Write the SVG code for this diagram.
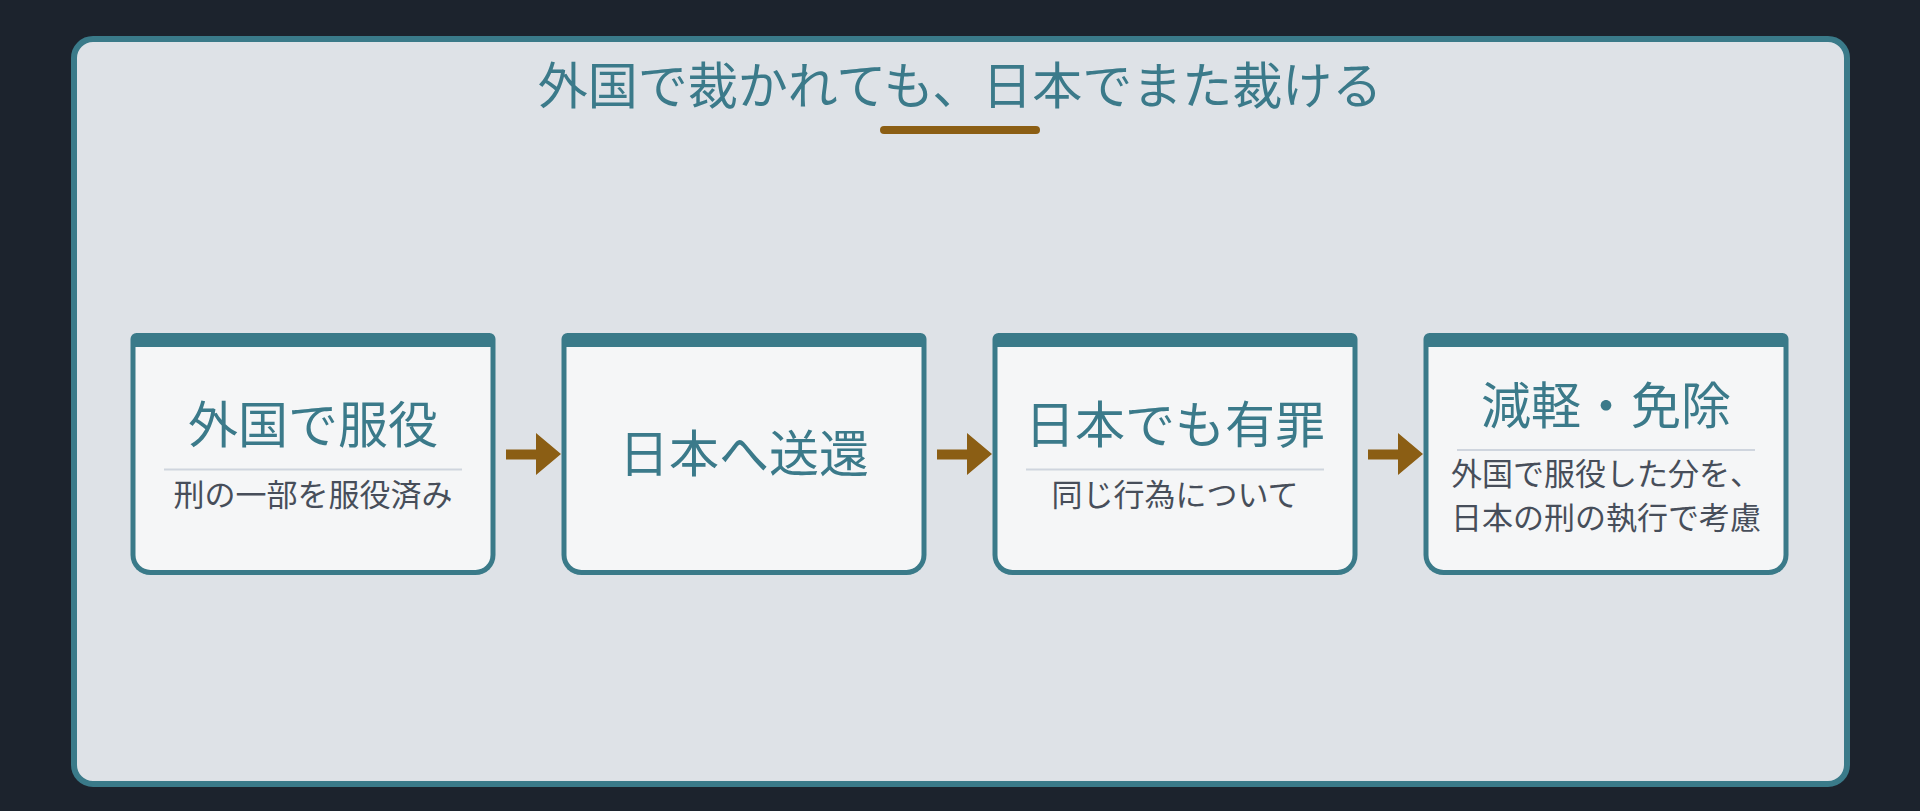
<svg xmlns="http://www.w3.org/2000/svg" width="1920" height="811" viewBox="0 0 1920 811">
  <style>
    .t { font-family: "Noto Sans CJK JP", "Noto Sans", sans-serif; text-anchor: middle; }
    .main { font-size: 50px; fill: #3b7a8a; }
    .ntitle { font-size: 50px; fill: #3b7a8a; }
    .sub { font-size: 31px; fill: #474e5a; }
    .border { fill: #3a7a89; }
    .inner { fill: #f5f6f7; }
    .div { stroke: #cfd5de; stroke-width: 2; }
    .arrow { fill: #8b5e14; }
  </style>
  <defs>
    <g id="card">
      <path class="border" d="M6 0 H359 A6 6 0 0 1 365 6 V222 A20 20 0 0 1 345 242 H20 A20 20 0 0 1 0 222 V6 A6 6 0 0 1 6 0 Z"/>
      <path class="inner" d="M5 14 H360 V222 A15 15 0 0 1 345 237 H20 A15 15 0 0 1 5 222 Z"/>
    </g>
  </defs>
  <rect width="1920" height="811" fill="#1c232d"/>
  <rect x="74" y="39" width="1773" height="745" rx="19" fill="#dee2e7" stroke="#3a7a89" stroke-width="6"/>
  <g id="title">
    <text class="t main" x="960" y="104">外国で裁かれても、日本でまた裁ける</text>
    <line x1="884" y1="130" x2="1036" y2="130" stroke="#8b5e14" stroke-width="8" stroke-linecap="round"/>
  </g>
  <g id="connectors">
    <path class="arrow" d="M506 449.5 H536 V433 L561 454 L536 475 V459.5 H506 Z"/>
    <path class="arrow" d="M937 449.5 H967 V433 L992 454 L967 475 V459.5 H937 Z"/>
    <path class="arrow" d="M1368 449.5 H1398 V433 L1423 454 L1398 475 V459.5 H1368 Z"/>
  </g>
  <g id="node1">
    <use href="#card" x="130.5" y="333"/>
    <text class="t ntitle" x="313" y="443">外国で服役</text>
    <line class="div" x1="164" y1="469.5" x2="462" y2="469.5"/>
    <text class="t sub" x="313" y="506">刑の一部を服役済み</text>
  </g>
  <g id="node2">
    <use href="#card" x="561.5" y="333"/>
    <text class="t ntitle" x="744" y="471.5">日本へ送還</text>
  </g>
  <g id="node3">
    <use href="#card" x="992.5" y="333"/>
    <text class="t ntitle" x="1175" y="443">日本でも有罪</text>
    <line class="div" x1="1026" y1="469.5" x2="1324" y2="469.5"/>
    <text class="t sub" x="1175" y="506">同じ行為について</text>
  </g>
  <g id="node4">
    <use href="#card" x="1423.5" y="333"/>
    <text class="t ntitle" x="1606" y="423.5">減軽・免除</text>
    <line class="div" x1="1457" y1="450" x2="1755" y2="450"/>
    <text class="t sub" x="1606" y="485">外国で服役した分を、</text>
    <text class="t sub" x="1606" y="529">日本の刑の執行で考慮</text>
  </g>
</svg>
